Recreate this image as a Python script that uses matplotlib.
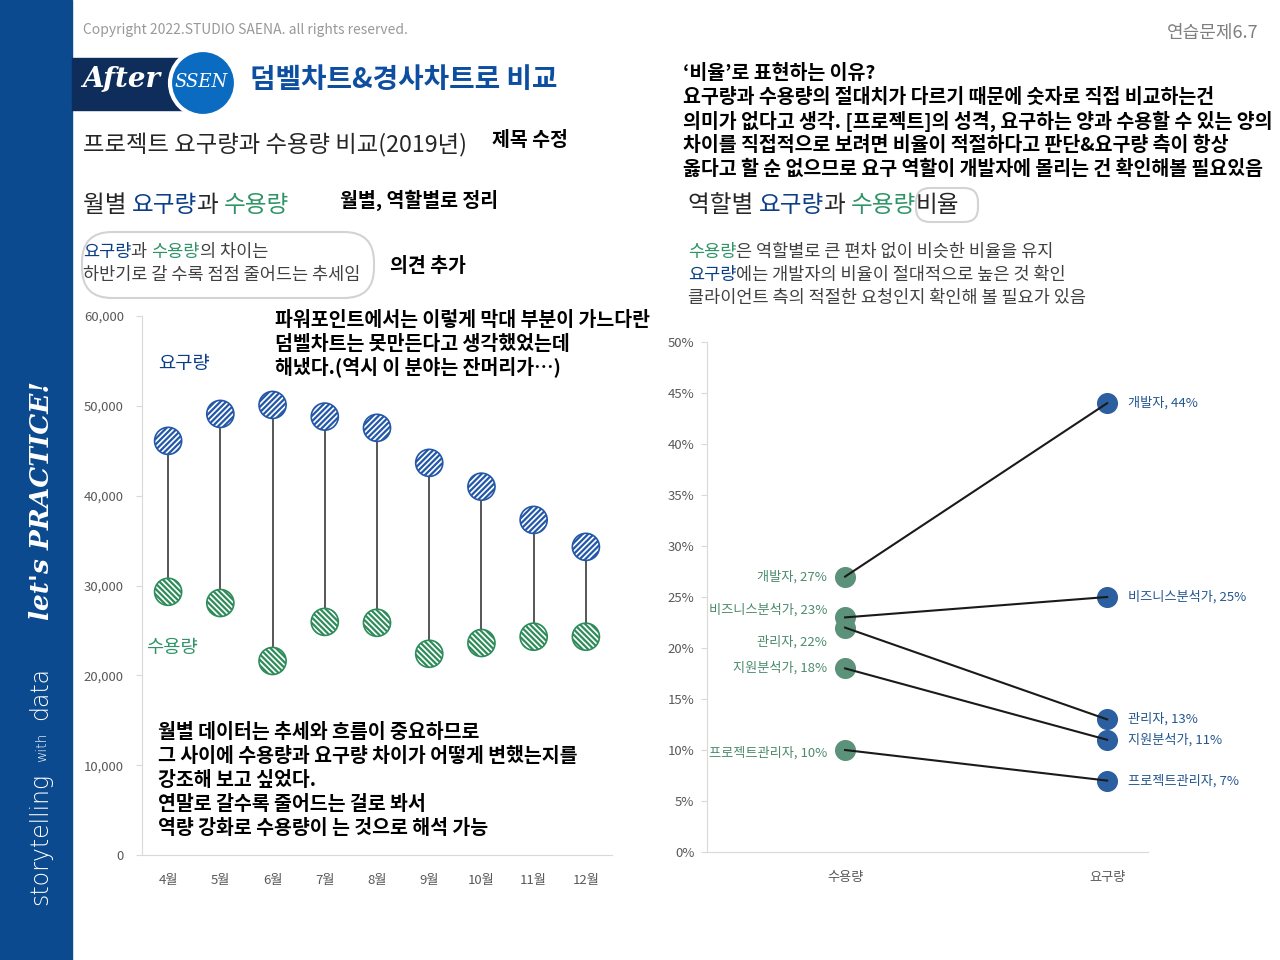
import matplotlib
matplotlib.use("Agg")
import matplotlib.pyplot as plt
from matplotlib.patches import Rectangle, Circle, FancyBboxPatch

plt.rcParams['font.family'] = ['Noto Sans CJK KR', 'DejaVu Sans']

# ---- data ----
months = ['4월', '5월', '6월', '7월', '8월', '9월', '10월', '11월', '12월']
demand = [46100, 49100, 50100, 48800, 47550, 43650, 41000, 37300, 34300]
supply = [29300, 28050, 21600, 25950, 25850, 22400, 23600, 24300, 24300]

roles = ['개발자', '비즈니스분석가', '관리자', '지원분석가', '프로젝트관리자']
role_supply = [27, 23, 22, 18, 10]
role_demand = [44, 25, 13, 11, 7]
slope_cats = ['수용량', '요구량']

NAVY = '#0b3e86'
GREEN = '#2f9466'
BLUE_M = '#2357a8'
GREEN_M = '#2e8b5a'
GRAY = '#595959'
HAND = 14  # handwritten notes size

fig = plt.figure(figsize=(12.8, 9.6), dpi=100)

# overlay in pixel coordinates
ax0 = fig.add_axes([0, 0, 1, 1])
ax0.set_xlim(0, 1280)
ax0.set_ylim(960, 0)
ax0.axis('off')


def chain(x, y, parts, size, weight='normal'):
    t = ax0.text(x, y, parts[0][0], color=parts[0][1], fontsize=size,
                 fontweight=weight, va='center', ha='left')
    for s, c in parts[1:]:
        t = ax0.annotate(s, xy=(1, 0), xycoords=t, color=c, fontsize=size,
                         fontweight=weight, va='bottom', ha='left')
    return t


# sidebar
ax0.add_patch(Rectangle((0, 0), 72, 960, color='#0b4a8f', zorder=1))
ax0.text(40, 905, 'storytelling', rotation=90, color='white', fontsize=17,
         fontweight='light', ha='center', va='bottom', family='DejaVu Sans')
ax0.text(42, 762, 'with', rotation=90, color='white', fontsize=10,
         fontweight='light', ha='center', va='bottom', family='DejaVu Sans')
ax0.text(40, 720, 'data', rotation=90, color='white', fontsize=17,
         fontweight='light', ha='center', va='bottom', family='DejaVu Sans')
ax0.text(42, 620, "let's PRACTICE!", rotation=90, color='white', fontsize=19,
         fontweight='bold', style='italic', ha='center', va='bottom',
         family='DejaVu Serif')

# header
ax0.text(83, 30, 'Copyright 2022.STUDIO SAENA. all rights reserved.',
         color='#999999', fontsize=10, va='center')
ax0.text(1258, 33, '연습문제6.7', color='#7f7f7f', fontsize=13, ha='right',
         va='center')

ax0.add_patch(Rectangle((72, 58), 130, 52, color='#0e2d5a', zorder=2))
ax0.text(82, 80, 'After', color='white', fontsize=20, fontweight='bold',
         style='italic', va='center', family='DejaVu Serif', zorder=3)
ax0.add_patch(Circle((203, 83), 33, fc='#0b6bc1', ec='white', lw=3, zorder=3))
ax0.text(201, 82, 'SSEN', color='white', fontsize=13, style='italic',
         ha='center', va='center', family='DejaVu Serif', zorder=4)
ax0.text(250, 80, '덤벨차트&경사차트로 비교', color='#0d4ea0', fontsize=20,
         fontweight='bold', va='center')

ax0.text(83, 145, '프로젝트 요구량과 수용량 비교(2019년)', color='#262626',
         fontsize=16.8, va='center')
ax0.text(492, 140, '제목 수정', color='black', fontsize=HAND,
         fontweight='bold', va='center')

chain(83, 205, [('월별 ', '#262626'), ('요구량', NAVY), ('과 ', '#262626'),
                ('수용량', GREEN)], 17)
ax0.text(340, 200, '월별, 역할별로 정리', color='black', fontsize=HAND,
         fontweight='bold', va='center')

ax0.add_patch(FancyBboxPatch((86, 236), 284, 58,
                             boxstyle='round,pad=4,rounding_size=30',
                             fc='none', ec='#d3d3d3', lw=1.5))
chain(83, 252, [('요구량', NAVY), ('과 ', '#404040'), ('수용량', GREEN),
                ('의 차이는', '#404040')], 12.6)
ax0.text(83, 275, '하반기로 갈 수록 점점 줄어드는 추세임', color='#404040',
         fontsize=12.6, va='center')
ax0.text(390, 267, '의견 추가', color='black', fontsize=HAND,
         fontweight='bold', va='center')

note1 = ['파워포인트에서는 이렇게 막대 부분이 가느다란',
         '덤벨차트는 못만든다고 생각했었는데',
         '해냈다.(역시 이 분야는 잔머리가…)']
for i, s in enumerate(note1):
    ax0.text(275, 321 + 23 * i, s, color='black', fontsize=HAND,
             fontweight='bold', va='center')

ax0.text(184, 364, '요구량', color=NAVY, fontsize=13.5, ha='center',
         va='center')
ax0.text(172, 648, '수용량', color=GREEN, fontsize=13.5, ha='center',
         va='center')

note2 = ['월별 데이터는 추세와 흐름이 중요하므로',
         '그 사이에 수용량과 요구량 차이가 어떻게 변했는지를',
         '강조해 보고 싶었다.',
         '연말로 갈수록 줄어드는 걸로 봐서',
         '역량 강화로 수용량이 는 것으로 해석 가능']
for i, s in enumerate(note2):
    ax0.text(158, 733 + 24 * i, s, color='black', fontsize=HAND,
             fontweight='bold', va='center', zorder=5)

note3 = ['‘비율’로 표현하는 이유?',
         '요구량과 수용량의 절대치가 다르기 때문에 숫자로 직접 비교하는건',
         '의미가 없다고 생각. [프로젝트]의 성격, 요구하는 양과 수용할 수 있는 양의',
         '차이를 직접적으로 보려면 비율이 적절하다고 판단&요구량 측이 항상',
         '옳다고 할 순 없으므로 요구 역할이 개발자에 몰리는 건 확인해볼 필요있음']
for i, s in enumerate(note3):
    ax0.text(683, 73 + 24 * i, s, color='black', fontsize=HAND,
             fontweight='bold', va='center')

chain(688, 205, [('역할별 ', '#262626'), ('요구량', NAVY),
                 ('과 ', '#262626'), ('수용량', GREEN),
                 ('비율', '#262626')], 17)
ax0.add_patch(FancyBboxPatch((920, 192), 54, 26,
                             boxstyle='round,pad=4,rounding_size=14',
                             fc='none', ec='#d3d3d3', lw=1.5))

chain(688, 252, [('수용량', GREEN),
                 ('은 역할별로 큰 편차 없이 비슷한 비율을 유지', '#404040')],
      12.6)
chain(688, 275, [('요구량', NAVY),
                 ('에는 개발자의 비율이 절대적으로 높은 것 확인', '#404040')],
      12.6)
ax0.text(688, 298, '클라이언트 측의 적절한 요청인지 확인해 볼 필요가 있음',
         color='#404040', fontsize=12.6, va='center')

# ---- left: dumbbell chart ----
ax1 = fig.add_axes([142 / 1280, 105 / 960, 470 / 1280, 539 / 960])
ax1.patch.set_alpha(0)
x = list(range(len(months)))
ax1.vlines(x, supply, demand, color='#3a3a3a', lw=1.2, zorder=1)
with plt.rc_context({'hatch.color': BLUE_M, 'hatch.linewidth': 1.6}):
    ax1.scatter(x, demand, s=380, facecolor='white', edgecolor=BLUE_M,
                hatch='//////', lw=1.2, zorder=3)
with plt.rc_context({'hatch.color': GREEN_M, 'hatch.linewidth': 1.6}):
    ax1.scatter(x, supply, s=380, facecolor='white', edgecolor=GREEN_M,
                hatch='\\\\\\\\\\\\', lw=1.2, zorder=3)
ax1.set_xlim(-0.5, 8.5)
ax1.set_ylim(0, 60000)
ax1.set_xticks(x)
ax1.set_xticklabels(months)
ax1.set_yticks(range(0, 60001, 10000))
ax1.set_yticklabels(['{:,}'.format(v) for v in range(0, 60001, 10000)])
for sp in ['top', 'right']:
    ax1.spines[sp].set_visible(False)
for sp in ['left', 'bottom']:
    ax1.spines[sp].set_color('#d9d9d9')
ax1.tick_params(axis='x', length=0, pad=14, labelsize=9.5, labelcolor=GRAY)
ax1.tick_params(axis='y', length=4, color='#d9d9d9', pad=9, labelsize=9.5,
                labelcolor=GRAY)

# ---- right: slope chart ----
ax2 = fig.add_axes([707 / 1280, 108 / 960, 441 / 1280, 510 / 960])
ax2.patch.set_alpha(0)
ax2.scatter([0] * len(roles), role_supply, s=200, color='#5b9279', zorder=2)
ax2.scatter([1] * len(roles), role_demand, s=200, color='#2b5f9f', zorder=2)
for s_v, d_v in zip(role_supply, role_demand):
    ax2.plot([0, 1], [s_v, d_v], color='#1a1a1a', lw=1.5, zorder=3)

left_offsets = [0, 5, -10, 0, -2]
for name, s_v, dy in zip(roles, role_supply, left_offsets):
    ax2.annotate('{}, {}%'.format(name, s_v), xy=(0, s_v),
                 xytext=(-13, dy), textcoords='offset points', ha='right',
                 va='center', fontsize=9.5, color='#4d8b6c')
for name, d_v in zip(roles, role_demand):
    ax2.annotate('{}, {}%'.format(name, d_v), xy=(1, d_v),
                 xytext=(15, 0), textcoords='offset points', ha='left',
                 va='center', fontsize=9.5, color='#24578f')

ax2.set_xlim(-0.527, 1.156)
ax2.set_ylim(0, 50)
ax2.set_xticks([0, 1])
ax2.set_xticklabels(slope_cats)
ax2.set_yticks(range(0, 51, 5))
ax2.set_yticklabels(['{}%'.format(v) for v in range(0, 51, 5)])
for sp in ['top', 'right']:
    ax2.spines[sp].set_visible(False)
for sp in ['left', 'bottom']:
    ax2.spines[sp].set_color('#d9d9d9')
ax2.tick_params(axis='x', length=0, pad=14, labelsize=9.5, labelcolor=GRAY)
ax2.tick_params(axis='y', length=4, color='#d9d9d9', pad=5, labelsize=9.5,
                labelcolor=GRAY)

fig.savefig('out.png', dpi=100)
